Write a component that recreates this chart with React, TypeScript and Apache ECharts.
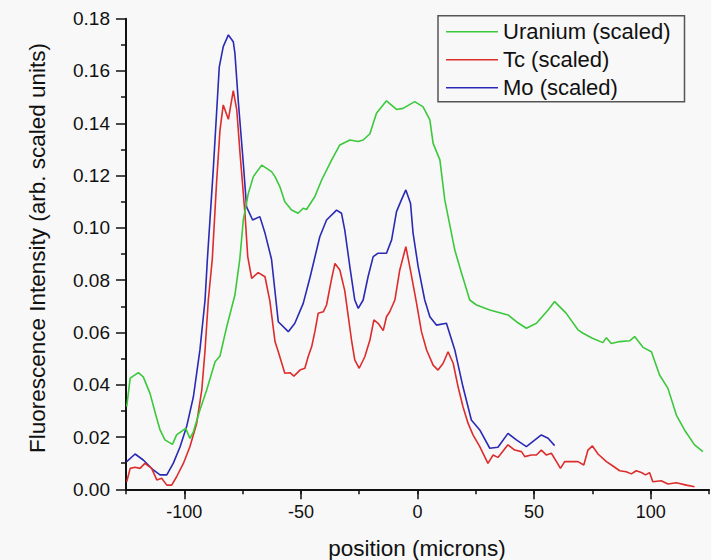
import React, { useEffect, useRef } from "react";
import * as echarts from "echarts";

// Position along the scan (microns) and scaled fluorescence for each element.
const uraniumPos = [
  -124.7, -123.2, -119.7, -117.6, -114.7, -112.4, -110.4, -108.3, -105.1, -103.3, -99.4, -97.6, -96.1,
  -93.3, -90.4, -86.8, -84.7, -81.8, -78.3, -76.2, -74.7, -72.6, -70.4, -66.8, -62.6, -61.1, -59, -56.9,
  -54, -51.2, -49, -47.6, -44, -41.1, -36.8, -33.3, -29, -25.4, -23.3, -20.4, -17.6, -13.3, -9, -6.2,
  -1.2, 2.4, 5.3, 6.7, 9.6, 11.7, 16, 18.9, 22.4, 25.3, 31, 38.8, 42.4, 46.7, 51, 56, 58.8, 63.8, 68.8,
  71, 75, 79.5, 81, 83.1, 86.7, 91, 93.1, 96.7, 100.3, 103.8, 107.4, 111, 114.5, 118.8, 122.4,
];
const uraniumVal = [
  0.0316, 0.0425, 0.0446, 0.043, 0.0367, 0.029, 0.0227, 0.0189, 0.0172, 0.0208, 0.0233, 0.0195, 0.022,
  0.0303, 0.038, 0.0488, 0.051, 0.0622, 0.0743, 0.088, 0.103, 0.113, 0.1196, 0.124, 0.1215, 0.1196, 0.1157,
  0.11, 0.1068, 0.1056, 0.1075, 0.107, 0.112, 0.1183, 0.126, 0.1317, 0.1336, 0.133, 0.1336, 0.136, 0.1438,
  0.1486, 0.1453, 0.1457, 0.1483, 0.1463, 0.1413, 0.1323, 0.126, 0.1107, 0.0915, 0.0826, 0.0724, 0.0705,
  0.0686, 0.0667, 0.0641, 0.0616, 0.0635, 0.0686, 0.0718, 0.0673, 0.061, 0.0597, 0.0578, 0.0561, 0.058,
  0.0558, 0.0565, 0.0568, 0.0584, 0.0543, 0.0526, 0.0437, 0.0386, 0.0284, 0.0227, 0.017, 0.0144,
];

const tcPos = [
  -124.7, -123.2, -121.1, -119, -116.9, -114, -111.8, -109.7, -107.5, -105.4, -103.3, -100.4, -97.6, -94.7,
  -92.5, -91.1, -89.7, -88, -86.1, -84.7, -83.3, -81.1, -79, -77.5, -76.1, -74, -72.8, -71.1, -68.3, -65.4,
  -63.3, -61.1, -59.7, -56.9, -54.7, -53, -50.4, -48.3, -46.9, -45.4, -44, -42.6, -40.4, -39, -36.8, -35.4,
  -33.3, -31.2, -28.3, -26.9, -25, -22.6, -20.4, -18.7, -16.9, -14.7, -13.3, -11.9, -9.7, -7.6, -5, -3.3,
  -1.2, -0.4, 1.7, 3.9, 6.7, 8.8, 11, 13.1, 15.3, 17.4, 19.5, 21.7, 23.8, 26.7, 28.8, 30.2, 32.4, 34.5,
  38.8, 41.7, 44.6, 46, 48.8, 51, 53.1, 55.3, 57.4, 59.6, 61.3, 63.1, 68.8, 71.3, 73.1, 75, 77.4, 81, 83.8,
  86.7, 89.5, 91.7, 93.8, 96, 97.8, 99.5, 100.9, 104.5, 107.4, 111, 115.3, 118.8,
];
const tcVal = [
  0.0029, 0.008, 0.0084, 0.008, 0.0099, 0.008, 0.0036, 0.0042, 0.0016, 0.0016, 0.0048, 0.0099, 0.0163, 0.0252,
  0.038, 0.0533, 0.0724, 0.088, 0.1183, 0.1374, 0.147, 0.1415, 0.1525, 0.1451, 0.1285, 0.1056, 0.089, 0.0807,
  0.0829, 0.0813, 0.072, 0.0565, 0.0526, 0.0444, 0.0446, 0.0433, 0.0456, 0.0463, 0.0507, 0.0545, 0.0603,
  0.0673, 0.0679, 0.0705, 0.0807, 0.0864, 0.0839, 0.076, 0.0571, 0.0495, 0.0463, 0.0507, 0.0571, 0.0648,
  0.0635, 0.0607, 0.066, 0.0679, 0.0724, 0.0839, 0.0928, 0.0851, 0.075, 0.0711, 0.0603, 0.0533, 0.0475,
  0.0456, 0.0482, 0.0526, 0.0482, 0.0392, 0.0316, 0.0252, 0.0208, 0.0163, 0.0125, 0.0099, 0.0131, 0.0122,
  0.017, 0.015, 0.0144, 0.0125, 0.0131, 0.0131, 0.015, 0.0131, 0.0138, 0.0106, 0.008, 0.0106, 0.0106, 0.0093,
  0.015, 0.0166, 0.0135, 0.0106, 0.0089, 0.0071, 0.0067, 0.0059, 0.0071, 0.0064, 0.0055, 0.0064, 0.0029,
  0.0033, 0.002, 0.0025, 0.0016, 0.001,
];

const moPos = [
  -124.7, -121.1, -117.6, -113.3, -110.4, -107.5, -104.7, -101.8, -99, -96.1, -93.3, -91.1, -90.1, -87.6,
  -85, -83.3, -81.1, -79, -78.3, -76.9, -74.7, -73.3, -70.7, -67.6, -65.4, -62.6, -59.7, -55.4, -52.6, -49,
  -46.1, -41.9, -39, -34.7, -32.6, -31.2, -29, -26.9, -25.4, -23.3, -21.2, -19, -16.9, -13.3, -11.1, -9,
  -6.9, -5, -3, -1.9, 0.3, 3.1, 5.3, 8.1, 12.4, 16, 19.5, 23.1, 26.7, 31, 34.5, 38.8, 42.4, 46.7, 53.1, 56,
  58.8,
];
const moVal = [
  0.0106, 0.0135, 0.0112, 0.0074, 0.0055, 0.0055, 0.01, 0.0163, 0.024, 0.0354, 0.0533, 0.0724, 0.088, 0.122,
  0.1616, 0.1693, 0.1738, 0.1712, 0.1668, 0.149, 0.1247, 0.108, 0.103, 0.1043, 0.098, 0.088, 0.0641, 0.0603,
  0.0635, 0.0711, 0.081, 0.0966, 0.103, 0.1068, 0.1056, 0.0992, 0.0851, 0.0724, 0.0692, 0.0724, 0.0813,
  0.089, 0.0903, 0.0903, 0.0954, 0.1062, 0.1107, 0.1145, 0.1094, 0.098, 0.0851, 0.0724, 0.066, 0.0628,
  0.0635, 0.0533, 0.0392, 0.0265, 0.0227, 0.0157, 0.0161, 0.0214, 0.0189, 0.0163, 0.0208, 0.0195, 0.0167,
];

const xMajorTicks = [-100, -50, 0, 50, 100];
const seriesNames = ["Uranium (scaled)", "Tc (scaled)", "Mo (scaled)"];
const seriesColors = ["#3cc83c", "#dd2c2c", "#2a2ab4"];

const zip = (xs: number[], ys: number[]) => xs.map((x, i) => [x, ys[i]]);

const FONT = "'Liberation Sans', Arial, Helvetica, sans-serif";
const BG = "#f8f8f8";

export default function App() {
  const ref = useRef<HTMLDivElement>(null);

  useEffect(() => {
    if (!ref.current) return;
    const chart = echarts.init(ref.current, undefined, { renderer: "svg" });
    const datasets = [zip(uraniumPos, uraniumVal), zip(tcPos, tcVal), zip(moPos, moVal)];

    chart.setOption({
      animation: false,
      backgroundColor: BG,
      grid: { left: 126, right: 2, top: 18.7, bottom: 70.7, outerBoundsMode: "none" },
      xAxis: [
        {
          type: "value",
          position: "bottom",
          min: -125,
          max: 125,
          axisLine: { onZero: false, lineStyle: { color: "#111", width: 2 } },
          axisTick: { customValues: xMajorTicks, length: 10, lineStyle: { color: "#111", width: 1.5 } },
          axisLabel: {
            customValues: xMajorTicks,
            margin: 14,
            fontSize: 18,
            fontFamily: FONT,
            color: "#111",
          },
          splitLine: { show: false },
        },
        {
          type: "value",
          position: "bottom",
          min: -125,
          max: 125,
          interval: 25,
          axisLine: { show: false, onZero: false },
          axisTick: { length: 5, lineStyle: { color: "#111", width: 1.5 } },
          axisLabel: { show: false },
          splitLine: { show: false },
        },
      ],
      yAxis: {
        type: "value",
        min: 0,
        max: 0.18,
        interval: 0.02,
        axisLine: { show: true, onZero: false, lineStyle: { color: "#111", width: 2 } },
        axisTick: { show: true, length: 10, lineStyle: { color: "#111", width: 1.5 } },
        minorTick: { show: true, splitNumber: 2, length: 5, lineStyle: { color: "#111", width: 1.5 } },
        axisLabel: {
          margin: 16,
          fontSize: 19,
          fontFamily: FONT,
          color: "#111",
          formatter: (v: number) => v.toFixed(2),
        },
        splitLine: { show: false },
      },
      legend: {
        orient: "vertical",
        left: 438,
        top: 15.7,
        padding: [5, 14, 3, 8],
        itemGap: 6,
        itemWidth: 52,
        itemHeight: 1.6,
        icon: "rect",
        backgroundColor: BG,
        borderColor: "#555",
        borderWidth: 1.5,
        textStyle: { fontSize: 22, lineHeight: 22, fontFamily: FONT, color: "#111" },
        data: seriesNames,
      },
      graphic: [
        {
          type: "text",
          x: 37,
          y: 248,
          rotation: Math.PI / 2,
          style: {
            text: "Fluorescence Intensity (arb. scaled units)",
            font: `22.5px ${FONT}`,
            fill: "#111",
            align: "center",
            verticalAlign: "middle",
          },
        },
        {
          type: "text",
          x: 417,
          y: 548,
          style: {
            text: "position (microns)",
            font: `22.5px ${FONT}`,
            fill: "#111",
            align: "center",
            verticalAlign: "middle",
          },
        },
      ],
      series: seriesNames.map((name, i) => ({
        name,
        type: "line",
        xAxisIndex: 0,
        data: datasets[i],
        symbol: "none",
        color: seriesColors[i],
        lineStyle: { color: seriesColors[i], width: 1.6 },
        z: 3 - i,
      })),
    });

    return () => chart.dispose();
  }, []);

  return (
    <div
      ref={ref}
      style={{ position: "fixed", left: 0, top: 0, width: 711, height: 560, background: BG }}
    />
  );
}
